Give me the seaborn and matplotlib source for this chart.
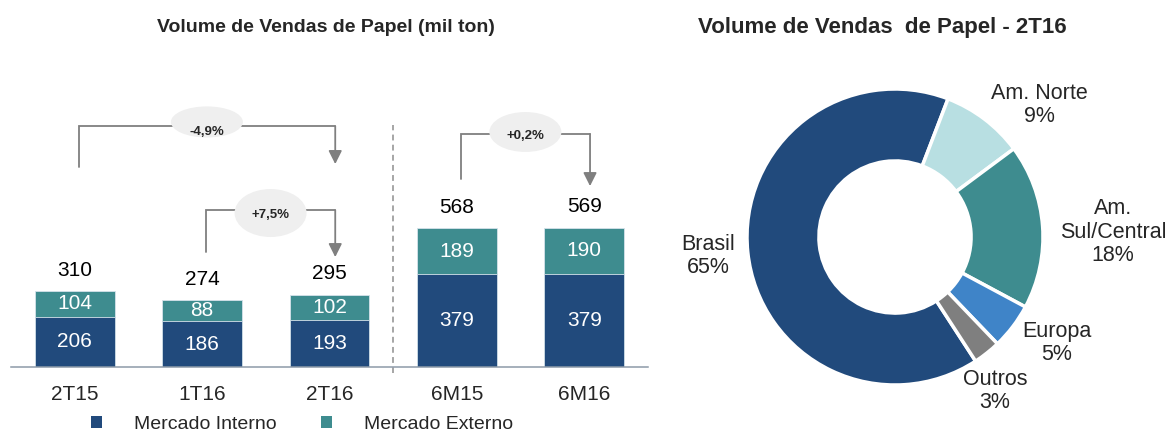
import matplotlib
matplotlib.use("Agg")
import matplotlib.pyplot as plt
from matplotlib.patches import Patch, Ellipse
import seaborn as sns
import pandas as pd

# ---------------- data ----------------
periods = ["2T15", "1T16", "2T16", "6M15", "6M16"]
mercado_interno = [206, 186, 193, 379, 379]
mercado_externo = [104, 88, 102, 189, 190]
totals = [310, 274, 295, 568, 569]
series_names = ["Mercado Interno", "Mercado Externo"]

variation_labels = ["-4,9%", "+7,5%", "+0,2%"]
variation_pairs = [(0, 2), (1, 2), (3, 4)]

regions = ["Brasil", "Am. Norte", "Am.\nSul/Central", "Europa", "Outros"]
region_share = [65, 9, 18, 5, 3]

title_left = "Volume de Vendas de Papel (mil ton)"
title_right = "Volume de Vendas  de Papel - 2T16"

# ---------------- style ----------------
sns.set_theme(style="white")
plt.rcParams["font.family"] = ["Liberation Sans", "DejaVu Sans"]

C_INT = "#214A7C"
C_EXT = "#3E8C8F"
C_GRAY = "#7F7F7F"
PIE_COLORS = ["#214A7C", "#B8DFE2", "#3E8C8F", "#3F84C8", "#7F7F7F"]

W, H = 1172, 434
fig = plt.figure(figsize=(W / 100, H / 100), dpi=100)

# ---------------- left: stacked bars ----------------
ax = fig.add_axes([11 / W, 67 / H, 637 / W, 306 / H])
df = pd.DataFrame({"period": periods, "interno": mercado_interno,
                   "externo": mercado_externo, "total": totals})
sns.barplot(data=df, x="period", y="total", color=C_EXT, width=0.625,
            saturation=1, ax=ax, edgecolor="#d5e2ea", linewidth=0.6)
sns.barplot(data=df, x="period", y="interno", color=C_INT, width=0.625,
            saturation=1, ax=ax, edgecolor="#d5e2ea", linewidth=0.6)
ax.set_xlim(-0.5, len(periods) - 0.5)
ax.set_ylim(0, 1250)
ax.set_xlabel("")
ax.set_ylabel("")
ax.set_yticks([])
for s in ["top", "right", "left"]:
    ax.spines[s].set_visible(False)
ax.spines["bottom"].set_color("#8D9AA8")
ax.spines["bottom"].set_linewidth(1.1)

# ticks at category boundaries, labels at centers
ax.set_xticks([i - 0.5 for i in range(len(periods) + 1)])
ax.set_xticklabels([])
ax.tick_params(axis="x", which="major", length=5, width=1.1, color="#8D9AA8",
               direction="out")
ax.set_xticks(range(len(periods)), minor=True)
ax.set_xticklabels(periods, minor=True, fontsize=15)
ax.tick_params(axis="x", which="minor", length=0, pad=13)

for i, (vi, ve, t) in enumerate(zip(mercado_interno, mercado_externo, totals)):
    ax.text(i, vi / 2, f"{vi}", ha="center", va="center", color="white", fontsize=15)
    ax.text(i, vi + ve / 2, f"{ve}", ha="center", va="center", color="white", fontsize=15)
    ax.annotate(f"{t}", (i, t), xytext=(0, 15), textcoords="offset points",
                ha="center", va="center", fontsize=15, color="black")

# dashed separator
ax.axvline(2.5, ymin=-0.02, ymax=0.79, color="#A6A6A6", lw=1.4,
           ls=(0, (3, 2.2)), clip_on=False)

# variation brackets (layout)
bracket_layout = [
    # y_line, y_left_bottom, y_tip, ellipse_dy, ellipse_h, text_dy
    (984, 817, 829, 17, 127, -24),
    (641, 470, 449, -12, 196, -20),
    (952, 768, 739, 8, 163, -9),
]
for lab, (a, b), (yl, yb, yt, edy, eh, tdy) in zip(variation_labels, variation_pairs,
                                                    bracket_layout):
    xa, xb = a + 0.03, b + 0.045
    ax.plot([xa, xa, xb], [yb, yl, yl], color=C_GRAY, lw=1.3, zorder=3,
            solid_joinstyle="miter")
    ax.annotate("", xy=(xb, yt), xytext=(xb, yl),
                arrowprops=dict(arrowstyle="-|>", color=C_GRAY, lw=1.3,
                                mutation_scale=20, shrinkA=0, shrinkB=0),
                zorder=3)
    xm = (xa + xb) / 2
    ax.add_patch(Ellipse((xm, yl + edy), width=0.565, height=eh,
                         facecolor="#EFEFEF", edgecolor="none", zorder=4))
    ax.text(xm, yl + tdy, lab, ha="center", va="center", fontsize=9.5,
            fontweight="bold", zorder=5)

# legend
handles = [Patch(facecolor=C_INT, edgecolor="none"),
           Patch(facecolor=C_EXT, edgecolor="none")]
fig.legend(handles, series_names, loc="center", ncol=2, frameon=False,
           bbox_to_anchor=(302 / W, 9.5 / H), fontsize=14,
           handlelength=0.57, handleheight=0.57, handletextpad=1.65,
           columnspacing=2.25, borderpad=0)

fig.text(326 / W, 1 - 28 / H, title_left, ha="center", va="center",
         fontsize=14, fontweight="bold")

# ---------------- right: donut ----------------
R = 148
ax2 = fig.add_axes([(895 - 160) / W, (H - 237 - 160) / H, 320 / W, 320 / H])
ax2.pie(region_share, colors=PIE_COLORS, startangle=303, counterclock=False,
        radius=1, wedgeprops=dict(width=0.486, edgecolor="white", linewidth=2.5))
ax2.set_xlim(-160 / R, 160 / R)
ax2.set_ylim(-160 / R, 160 / R)
ax2.set_aspect("equal")
ax2.axis("off")

label_pos_px = [(708, 256), (1039, 105), (1113, 232), (1057, 343), (995, 391)]
for name, share, (px, py) in zip(regions, region_share, label_pos_px):
    ax2.text((px - 895) / R, (237 - py) / R, f"{name}\n{share}%", ha="center",
             va="center", fontsize=15.5, linespacing=1.15)

fig.text(882 / W, 1 - 28 / H, title_right, ha="center", va="center",
         fontsize=16, fontweight="bold")

fig.savefig("out.png", dpi=100)
